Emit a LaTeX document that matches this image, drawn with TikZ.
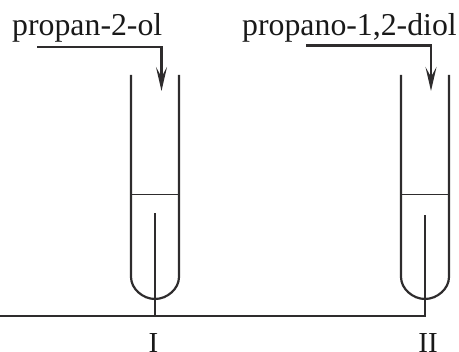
\documentclass[tikz,border=0pt]{standalone}
\usepackage{fontspec}
\setmainfont{Liberation Serif}
\usetikzlibrary{arrows.meta}
\definecolor{ink}{HTML}{2E2C2D}
\tikzset{
  labeltext/.style={inner sep=0pt,text=black!90,font=\fontsize{31.8}{34}\selectfont},
  romantext/.style={inner sep=0pt,text=black!90,font=\fontsize{29}{32}\selectfont},
  glass/.style={draw=ink,line width=2.2pt},
  level/.style={draw=ink,line width=1pt},
  wire/.style={draw=ink,line width=2.4pt},
  feed/.style={draw=ink,line width=2.4pt,-{Stealth[length=24pt,width=11pt,inset=10pt]}},
}
\begin{document}
\begin{tikzpicture}[x=1pt,y=-1pt]
\useasboundingbox (0,0) rectangle (459,352);
\node[labeltext,anchor=base west] (nameA) at (12,36) {propan-2-ol};
\node[labeltext,anchor=base west] (nameB) at (242,36) {propano-1,2-diol};
\node[romantext,anchor=base] (romA) at (153.5,352.5) {I};
\node[romantext,anchor=base] (romB) at (428,352.5) {II};
% tubes
\draw[glass] (131,75) -- (131,277) .. controls (131,289) and (143,299) .. (155,299) .. controls (167,299) and (179,289) .. (179,277) -- (179,75);
\draw[glass] (401,75) -- (401,277) .. controls (401,289) and (413,299) .. (425,299) .. controls (437,299) and (449,289) .. (449,277) -- (449,75);
% liquid levels
\draw[level] (131,194.5) -- (179,194.5);
\draw[level] (401,194.5) -- (449,194.5);
% circuit
\coordinate (leftEnd) at (0,316);
\coordinate (tipA) at (155,213);
\coordinate (footA) at (155,316);
\coordinate (tipB) at (425,215);
\coordinate (footB) at (425,316);
\draw[wire] (leftEnd) -- (footB) -- (tipB);
\draw[wire] (footA) -- (tipA);
% feeds
\coordinate (startA) at (37,47);
\coordinate (endA) at (161.5,91);
\coordinate (startB) at (306,45.5);
\coordinate (endB) at (431,91);
\draw[feed] (startA) -| (endA);
\draw[feed] (startB) -| (endB);
\end{tikzpicture}
\end{document}
